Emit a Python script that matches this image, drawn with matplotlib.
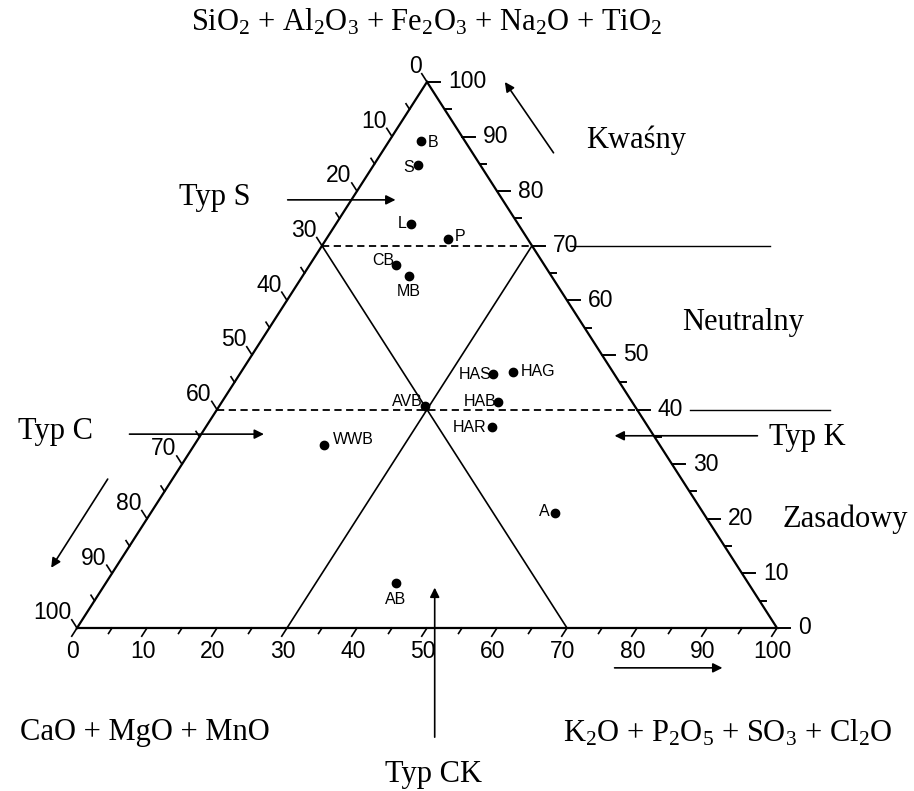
import matplotlib
matplotlib.use("Agg")
import matplotlib.pyplot as plt

plt.rcParams['mathtext.fontset'] = 'custom'
plt.rcParams['mathtext.rm'] = 'Liberation Serif'
plt.rcParams['mathtext.default'] = 'rm'

# samples: K = bottom axis (K2O+P2O5+SO3+Cl2O), T = top (SiO2+...)
names = ['B', 'S', 'L', 'P', 'CB', 'MB', 'HAS', 'HAG', 'AVB', 'HAB', 'HAR', 'WWB', 'A', 'AB']
k_vals = [4.5, 6.3, 10.7, 17.4, 12.3, 15.2, 36.1, 38.8, 29.3, 39.5, 40.9, 18.6, 57.8, 41.4]
t_vals = [89.2, 84.8, 74.0, 71.2, 66.5, 64.4, 46.6, 46.9, 40.7, 41.3, 36.8, 33.5, 21.1, 8.3]
# where each label sits relative to its dot (offset points, alignment)
label_pos = {
    'B': ((5, -1), 'left', 'center'), 'S': ((-3, -2), 'right', 'center'),
    'L': ((-3, 0), 'right', 'center'), 'P': ((5, 2), 'left', 'center'),
    'CB': ((-1, 3), 'right', 'center'), 'MB': ((0, -11), 'center', 'center'),
    'HAS': ((-1, -1), 'right', 'center'), 'HAG': ((6, 0), 'left', 'center'),
    'AVB': ((-1, 3), 'right', 'center'), 'HAB': ((-1, 1), 'right', 'center'),
    'HAR': ((-4, 0), 'right', 'center'), 'WWB': ((6, 4), 'left', 'center'),
    'A': ((-4, 1), 'right', 'center'), 'AB': ((0, -12), 'center', 'center'),
}

ticks = list(range(0, 101, 10))
minor = list(range(5, 100, 10))
dashed_t = [70, 40]          # Kwaśny / Neutralny / Zasadowy limits
solid_k = 30                 # line K = 30
solid_c = 30                 # line C = 30


def xy(k, t):
    return k + t / 2.0, t


fig = plt.figure(figsize=(9.14, 7.91), dpi=100)
ax = fig.add_axes([0, 0, 1, 1])
ax.set_xlim(-11, 119.571)
ax.set_ylim(-29.85, 115.0)
ax.axis('off')

lw = 1.6
# triangle
tx, ty = zip(*[xy(0, 0), xy(100, 0), xy(0, 100), xy(0, 0)])
ax.plot(tx, ty, color='black', lw=lw, solid_joinstyle='miter', zorder=3)

# dashed horizontal limits
for t in dashed_t:
    x0, y0 = xy(0, t)
    x1, y1 = xy(100 - t, t)
    ax.plot([x0, x1], [y0, y1], color='black', lw=1.3, ls=(0, (4, 2.5)))

# solid type lines
a, b = xy(solid_k, 0), xy(solid_k, 100 - solid_k)
ax.plot([a[0], b[0]], [a[1], b[1]], color='black', lw=1.2)
a, b = xy(100 - solid_c, 0), xy(0, 100 - solid_c)
ax.plot([a[0], b[0]], [a[1], b[1]], color='black', lw=1.2)

tick_font = dict(family='Liberation Sans', fontsize=16.5)
# left axis (C = 0 at top to 100 at bottom)
for c in ticks + minor:
    d = 1.5 if c in ticks else 1.0
    t = 100 - c
    p0 = xy(0, t)
    p1 = xy(-d, t + d)
    ax.plot([p0[0], p1[0]], [p0[1], p1[1]], color='black', lw=1.2)
    if c in ticks:
        ax.annotate(str(c), p0, xytext=(-4, 11), textcoords='offset points',
                    ha='right', va='center', **tick_font)
# right axis (T)
for t in ticks + minor:
    d = 1.9 if t in ticks else 0.9
    p0 = xy(100 - t, t)
    p1 = xy(100 - t + d, t)
    ax.plot([p0[0], p1[0]], [p0[1], p1[1]], color='black', lw=1.4)
    if t in ticks:
        ax.annotate(str(t), p0, xytext=(15, 0), textcoords='offset points',
                    ha='left', va='center', **tick_font)
# bottom axis (K)
for k in ticks + minor:
    d = 1.5 if k in ticks else 1.0
    p0 = xy(k, 0)
    p1 = xy(k, -d)
    ax.plot([p0[0], p1[0]], [p0[1], p1[1]], color='black', lw=1.2)
    if k in ticks:
        ax.annotate(str(k), p0, xytext=(-3, -17), textcoords='offset points',
                    ha='center', va='center', **tick_font)

# extra horizontal lines right of the triangle
ax.plot([70.4, 99.0], [70, 70], color='black', lw=1.0)
ax.plot([87.6, 107.6], [40, 40], color='black', lw=1.0)

# sample points
px, py = zip(*[xy(k, t) for k, t in zip(k_vals, t_vals)])
ax.plot(px, py, 'o', color='black', ms=6, zorder=4)
for n, x, y in zip(names, px, py):
    off, ha, va = label_pos[n]
    ax.annotate(n, (x, y), xytext=off, textcoords='offset points', ha=ha, va=va,
                family='Liberation Sans', fontsize=11.5)

# arrows
arr = dict(arrowstyle='-|>', color='black', lw=1.2, mutation_scale=14)
for (x0, y0), (x1, y1) in [((68.3, 86.6), (60.9, 100.4)),
                           ((76.4, -7.3), (92.6, -7.3)),
                           ((4.6, 27.7), (-3.9, 10.6)),
                           ((29.7, 78.4), (45.9, 78.4)),
                           ((7.1, 35.5), (27.1, 35.5)),
                           ((97.6, 35.2), (76.4, 35.2)),
                           ((51.1, -20.5), (51.1, 7.9))]:
    ax.annotate('', xy=(x1, y1), xytext=(x0, y0), arrowprops=arr)

serif = dict(family='Liberation Serif', fontsize=22, ha='center', va='center')
ax.text(50, 111.0, 'SiO$_2$ + Al$_2$O$_3$ + Fe$_2$O$_3$ + Na$_2$O + TiO$_2$', **serif)
ax.text(79.9, 89.4, 'Kwaśny', **serif)
ax.text(95.1, 56.0, 'Neutralny', **serif)
ax.text(109.7, 20.0, 'Zasadowy', **serif)
ax.text(19.7, 78.8, 'Typ S', **serif)
ax.text(-3.1, 35.9, 'Typ C', **serif)
ax.text(104.4, 34.8, 'Typ K', **serif)
ax.text(9.7, -19.2, 'CaO + MgO + MnO', **serif)
ax.text(93.0, -19.2, 'K$_2$O + P$_2$O$_5$ + SO$_3$ + Cl$_2$O', **serif)
ax.text(50.9, -26.9, 'Typ CK', **serif)

fig.savefig('out.png', dpi=100)
